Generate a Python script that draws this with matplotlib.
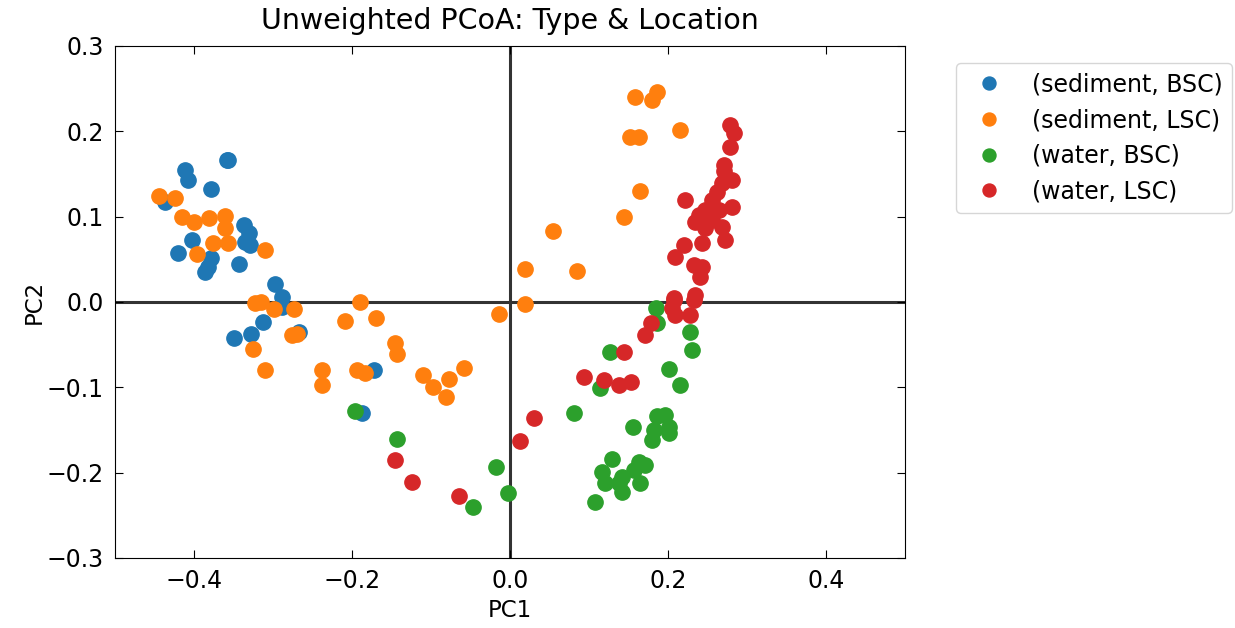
import matplotlib
matplotlib.use('Agg')
import matplotlib.pyplot as plt

# PC1 / PC2 coordinates, one list pair per group
sed_bsc_x = [-0.358, -0.411, -0.407, -0.378, -0.357, -0.437, -0.337, -0.330, -0.335, -0.329,
             -0.403, -0.420, -0.378, -0.382, -0.386, -0.343, -0.297, -0.289, -0.289, -0.313,
             -0.349, -0.328, -0.267, -0.172, -0.187]
sed_bsc_y = [0.166, 0.155, 0.143, 0.132, 0.166, 0.117, 0.090, 0.081, 0.070, 0.067,
             0.073, 0.057, 0.052, 0.041, 0.035, 0.045, 0.021, 0.006, -0.006, -0.023,
             -0.042, -0.038, -0.035, -0.080, -0.130]

sed_lsc_x = [-0.444, -0.424, -0.415, -0.400, -0.381, -0.361, -0.361, -0.376, -0.357, -0.396,
             -0.310, -0.323, -0.315, -0.299, -0.273, -0.325, -0.310, -0.276, -0.270, -0.238,
             -0.238, -0.209, -0.190, -0.170, -0.194, -0.184, -0.146, -0.143, -0.110, -0.097,
             -0.077, -0.081, -0.058, 0.054, 0.019, 0.085, 0.019, -0.014, 0.158, 0.180,
             0.186, 0.152, 0.163, 0.215, 0.165, 0.144]
sed_lsc_y = [0.124, 0.122, 0.100, 0.094, 0.098, 0.101, 0.087, 0.069, 0.069, 0.056,
             0.061, -0.001, 0.000, -0.008, -0.008, -0.055, -0.080, -0.039, -0.038, -0.080,
             -0.097, -0.022, 0.000, -0.019, -0.080, -0.083, -0.048, -0.061, -0.086, -0.100,
             -0.090, -0.111, -0.077, 0.083, 0.039, 0.036, -0.002, -0.014, 0.240, 0.237,
             0.246, 0.193, 0.193, 0.202, 0.130, 0.100]

wat_bsc_x = [-0.196, -0.143, -0.047, -0.018, -0.003, 0.185, 0.186, 0.127, 0.114, 0.228,
             0.230, 0.201, 0.215, 0.081, 0.156, 0.186, 0.196, 0.201, 0.182, 0.180,
             0.201, 0.129, 0.116, 0.163, 0.171, 0.142, 0.157, 0.120, 0.138, 0.142,
             0.165, 0.108]
wat_bsc_y = [-0.128, -0.161, -0.240, -0.193, -0.224, -0.007, -0.025, -0.059, -0.101, -0.035,
             -0.056, -0.078, -0.097, -0.130, -0.146, -0.134, -0.132, -0.146, -0.150, -0.162,
             -0.154, -0.184, -0.199, -0.188, -0.191, -0.205, -0.197, -0.212, -0.212, -0.223,
             -0.212, -0.234]

wat_lsc_x = [-0.146, -0.124, -0.065, 0.013, 0.030, 0.094, 0.119, 0.138, 0.153, 0.144,
             0.171, 0.178, 0.205, 0.209, 0.228, 0.207, 0.233, 0.278, 0.283, 0.278,
             0.271, 0.271, 0.281, 0.268, 0.262, 0.222, 0.256, 0.281, 0.247, 0.265,
             0.239, 0.256, 0.234, 0.247, 0.268, 0.272, 0.243, 0.220, 0.209, 0.233,
             0.243, 0.241, 0.234, 0.208]
wat_lsc_y = [-0.185, -0.211, -0.227, -0.163, -0.136, -0.088, -0.091, -0.097, -0.094, -0.059,
             -0.039, -0.025, -0.007, -0.015, -0.015, 0.002, 0.002, 0.207, 0.198, 0.182,
             0.161, 0.153, 0.143, 0.139, 0.129, 0.120, 0.120, 0.111, 0.108, 0.108,
             0.102, 0.096, 0.094, 0.087, 0.088, 0.073, 0.069, 0.067, 0.053, 0.043,
             0.041, 0.029, 0.008, 0.005]

groups = ['(sediment, BSC)', '(sediment, LSC)', '(water, BSC)', '(water, LSC)']
xs = [sed_bsc_x, sed_lsc_x, wat_bsc_x, wat_lsc_x]
ys = [sed_bsc_y, sed_lsc_y, wat_bsc_y, wat_lsc_y]
colors = ['#1f77b4', '#ff7f0e', '#2ca02c', '#d62728']

plt.rcParams['font.size'] = 16.5

fig = plt.figure(figsize=(12.35, 6.28), dpi=100)
ax = fig.add_axes([0.0931, 0.1115, 0.6397, 0.8153])

for name, x, y, c in zip(groups, xs, ys, colors):
    ax.plot(x, y, 'o', ms=11, color=c, label=name)

ax.axhline(0, color='#333333', lw=2.2, zorder=0)
ax.axvline(0, color='#333333', lw=2.2, zorder=0)

ax.set_xlim(-0.5, 0.5)
ax.set_ylim(-0.3, 0.3)
ax.set_xticks([-0.4, -0.2, 0.0, 0.2, 0.4])
ax.set_yticks([-0.3, -0.2, -0.1, 0.0, 0.1, 0.2, 0.3])
ax.tick_params(direction='in', top=True, right=True, length=6, pad=8, labelsize=17)
ax.set_xlabel('PC1', labelpad=4)
ax.set_ylabel('PC2', labelpad=1)
ax.set_title('Unweighted PCoA: Type & Location', fontsize=20.5, pad=12)

ax.legend(bbox_to_anchor=(1.05, 0.99), loc='upper left', markerscale=0.85, fontsize=17)

fig.savefig('out.png', dpi=100)
